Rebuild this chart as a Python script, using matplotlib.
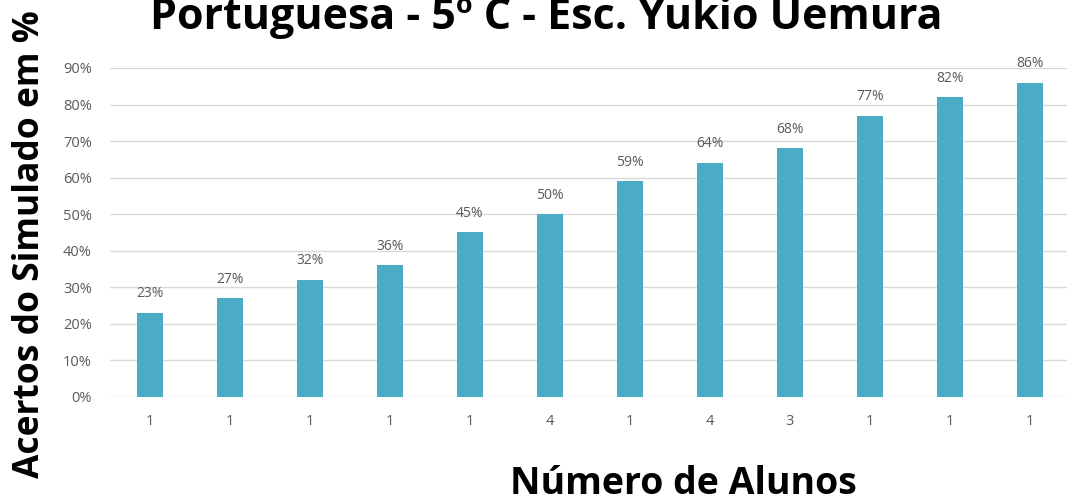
import numpy as np
import matplotlib
matplotlib.use("Agg")
from matplotlib import pyplot as plt
from matplotlib.ticker import PercentFormatter

alunos = ["1", "1", "1", "1", "1", "4", "1", "4", "3", "1", "1", "1"]
acertos = [23, 27, 32, 36, 45, 50, 59, 64, 68, 77, 82, 86]

plt.rcParams["font.family"] = ["Open Sans", "DejaVu Sans"]

fig = plt.figure(figsize=(10.67, 5.03), dpi=100)
ax = fig.add_axes([110 / 1067, 1 - 397 / 503, 957 / 1067, (397 - 68) / 503])

x = np.arange(len(acertos))
ax.bar(x, acertos, width=0.33, color="#4BACC6", zorder=3)

for xi, v in zip(x, acertos):
    ax.text(xi, v + 3.2, f"{v}%", ha="center", va="bottom", fontsize=10,
            color="#595959", clip_on=False)

ax.set_xlim(-0.5, 11.5 - 3 / 80)
ax.set_ylim(0, 90)
ax.set_yticks(range(0, 91, 10))
ax.yaxis.set_major_formatter(PercentFormatter(decimals=0))
ax.set_xticks(x)
ax.set_xticklabels(alunos)
ax.tick_params(axis="both", length=0, colors="#595959", labelsize=10.5)
ax.tick_params(axis="y", pad=13)
ax.tick_params(axis="x", pad=12)
ax.grid(axis="y", color="#D9D9D9", linewidth=1, zorder=0)
for s in ax.spines.values():
    s.set_visible(False)

fig.text(546 / 1067, 1 - 29 / 503, "Portuguesa - 5º C - Esc. Yukio Uemura",
         ha="center", va="baseline", fontsize=31, fontweight="bold")
fig.text(30 / 1067, 1 - 244 / 503, "Acertos do Simulado em %", rotation=90,
         ha="center", va="center", fontsize=25.5, fontweight="bold")
fig.text(683 / 1067, 1 - 484 / 503, "Número de Alunos",
         ha="center", va="center", fontsize=27, fontweight="bold")

fig.savefig("out.png", dpi=100)
